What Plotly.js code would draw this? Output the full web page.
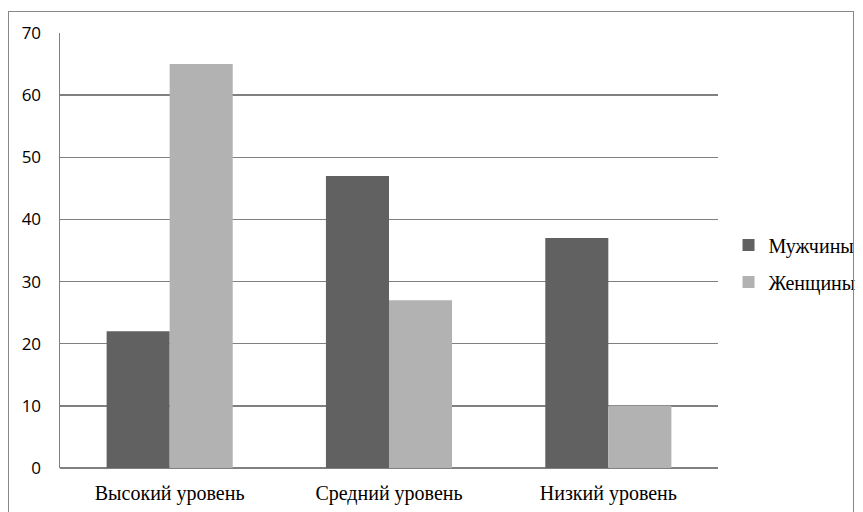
<!DOCTYPE html>
<html>
<head>
<meta charset="utf-8">
<script src="https://cdn.plot.ly/plotly-3.0.1.min.js"></script>
<style>
html,body{margin:0;padding:0;background:#fff;}
#frame{position:absolute;left:8px;top:11px;width:846px;height:510px;border:1.5px solid #888;box-sizing:border-box;pointer-events:none;z-index:10;}
#chart{position:absolute;left:0;top:0;width:863px;height:512px;}
</style>
</head>
<body>
<div id="chart"></div>
<div id="frame"></div>
<script>
const categories = ["Высокий уровень", "Средний уровень", "Низкий уровень"];
const men = [22, 47, 37];
const women = [65, 27, 10];
const seriesNames = ["Мужчины", "Женщины"];
const yTicks = [0, 10, 20, 30, 40, 50, 60, 70];

const data = [
  {type: "bar", x: categories, y: men, name: seriesNames[0], legendgroup: "a", marker: {color: "#616161"}},
  {type: "bar", x: categories, y: women, name: seriesNames[1], legendgroup: "b", marker: {color: "#b2b2b2"}}
];

const layout = {
  width: 863, height: 512,
  margin: {l: 60, r: 145, t: 33, b: 44, autoexpand: false},
  paper_bgcolor: "#fff", plot_bgcolor: "#fff",
  barmode: "group", bargap: 0.425, bargroupgap: 0,
  showlegend: true,
  legend: {x: 1.016, xanchor: "left", y: 0.47, yanchor: "middle",
           traceorder: "grouped", tracegroupgap: 8,
           font: {family: "Liberation Serif, Times New Roman, serif", size: 20, color: "#000"},
           itemwidth: 30},
  xaxis: {type: "category", showgrid: false, zeroline: false, showline: false, ticks: "",
          tickfont: {family: "Liberation Serif, Times New Roman, serif", size: 20, color: "#000"},
          ticklabelstandoff: 11},
  yaxis: {range: [0, 70], tickvals: yTicks, ticktext: yTicks.map(String),
          showgrid: true, gridcolor: "#808080", gridwidth: 1.5,
          zeroline: true, zerolinecolor: "#808080", zerolinewidth: 1.5,
          showline: true, linecolor: "#808080", linewidth: 1.5, ticks: "",
          tickfont: {family: "Open Sans, sans-serif", size: 17, color: "#000"},
          ticklabelstandoff: 14, mirror: false}
};

Plotly.newPlot("chart", data, layout, {staticPlot: true, displayModeBar: false});
</script>
</body>
</html>
